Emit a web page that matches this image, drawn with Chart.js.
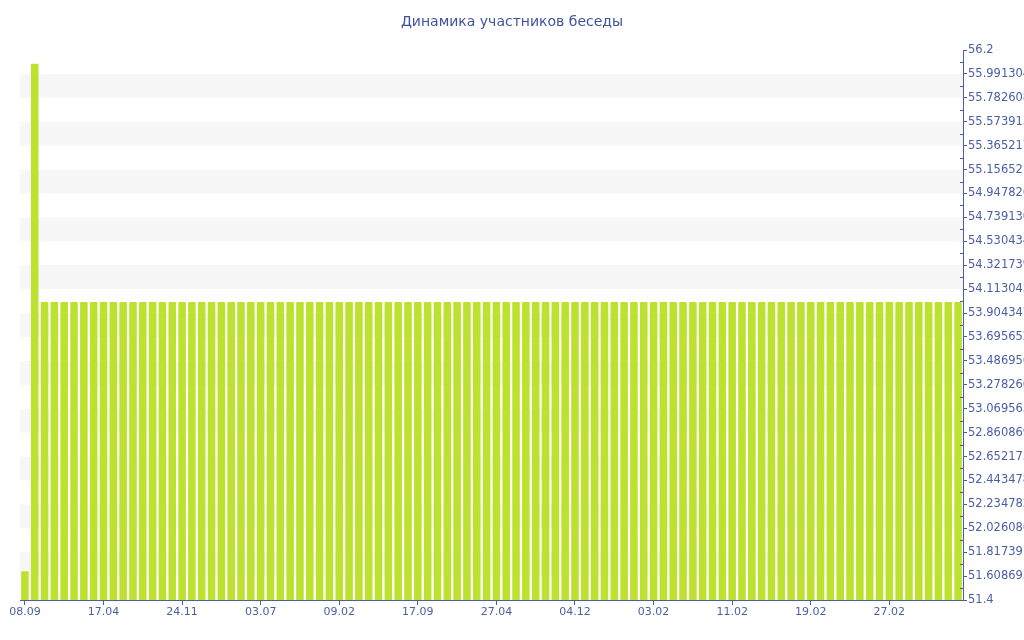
<!DOCTYPE html>
<html>
<head>
<meta charset="utf-8">
<title>Динамика участников беседы</title>
<script src="https://cdn.jsdelivr.net/npm/chart.js@4/dist/chart.umd.min.js"></script>
<style>
    html, body { margin: 0; padding: 0; background: #ffffff; }
    #wrap { width: 1024px; height: 640px; position: relative; }
</style>
</head>
<body>
<div id="wrap"><canvas id="membersChart"></canvas></div>
<script>
// Chart data
const chartTitle = 'Динамика участников беседы';

// x axis: one label every 8 bars
const tickLabels = ['08.09', '17.04', '24.11', '03.07', '09.02', '17.09',
                    '27.04', '04.12', '03.02', '11.02', '19.02', '27.02'];
const barsPerTick = 8;

// participants per bar (96 bars)
const members = [
    51.65, 56.08, 54, 54, 54, 54, 54, 54, 54, 54,
    54, 54, 54, 54, 54, 54, 54, 54, 54, 54,
    54, 54, 54, 54, 54, 54, 54, 54, 54, 54,
    54, 54, 54, 54, 54, 54, 54, 54, 54, 54,
    54, 54, 54, 54, 54, 54, 54, 54, 54, 54,
    54, 54, 54, 54, 54, 54, 54, 54, 54, 54,
    54, 54, 54, 54, 54, 54, 54, 54, 54, 54,
    54, 54, 54, 54, 54, 54, 54, 54, 54, 54,
    54, 54, 54, 54, 54, 54, 54, 54, 54, 54,
    54, 54, 54, 54, 54, 54
];

// y axis range and number of intervals
const yMin = 51.4;
const yMax = 56.2;
const ySteps = 23;

// Colours
const axisColor = '#4a5ea6';
const textColor = '#4a5ea6';
const titleColor = '#3f53a0';
const barColor = '#bde12f';
const bandColor = '#f7f7f7';

// Category labels: tick label on every 8th bar, blanks between
const categories = [];
members.forEach(function(v, i) {
    categories.push(i % barsPerTick === 0 ? tickLabels[i / barsPerTick] : '');
});

// Title centred on the whole canvas, bands and minor ticks
const decorPlugin = {
    id: 'decor',
    beforeDatasetsDraw(chart) {
        const ctx = chart.ctx;
        const area = chart.chartArea;
        const y = chart.scales.y;
        const ticks = y.ticks;
        ctx.save();
        ctx.fillStyle = bandColor;
        for (let i = ticks.length - 1; i > 0; i--) {
            // count intervals from the top, fill every second one
            const fromTop = ticks.length - 1 - i;
            if (fromTop % 2 === 1) {
                const top = y.getPixelForValue(ticks[i].value);
                const bottom = y.getPixelForValue(ticks[i - 1].value);
                ctx.fillRect(area.left, top, area.right - area.left, bottom - top);
            }
        }
        ctx.restore();
    },
    afterDraw(chart) {
        const ctx = chart.ctx;
        const y = chart.scales.y;
        const ticks = y.ticks;
        ctx.save();
        ctx.strokeStyle = axisColor;
        ctx.lineWidth = 1;
        for (let i = 1; i < ticks.length; i++) {
            const mid = (ticks[i].value + ticks[i - 1].value) / 2;
            const py = Math.round(y.getPixelForValue(mid)) + 0.5;
            ctx.beginPath();
            ctx.moveTo(y.left - 3, py);
            ctx.lineTo(y.left, py);
            ctx.stroke();
        }
        // title
        ctx.fillStyle = titleColor;
        ctx.font = '14px "DejaVu Sans"';
        ctx.textAlign = 'center';
        ctx.textBaseline = 'middle';
        ctx.fillText(chartTitle, chart.width / 2, 22);
        ctx.restore();
    }
};

// Build the chart
const membersCtx = document.getElementById('membersChart').getContext('2d');
const membersChart = new Chart(membersCtx, {
    type: 'bar',
    data: {
        labels: categories,
        datasets: [{
            label: 'Участники',
            data: members,
            backgroundColor: barColor,
            borderWidth: 0,
            borderRadius: 1,
            barPercentage: 0.77,
            categoryPercentage: 1
        }]
    },
    options: {
        responsive: true,
        maintainAspectRatio: false,
        animation: false,
        layout: {
            padding: { left: 20, top: 50, right: 0, bottom: 0 }
        },
        plugins: {
            legend: { display: false },
            tooltip: { enabled: false },
            title: { display: false }
        },
        scales: {
            x: {
                offset: true,
                grid: {
                    offset: false,
                    drawOnChartArea: false,
                    tickLength: 5,
                    color: function(c) {
                        return c.index % barsPerTick === 0 ? axisColor : 'rgba(0,0,0,0)';
                    }
                },
                border: { display: true, color: axisColor },
                ticks: {
                    autoSkip: false,
                    maxRotation: 0,
                    padding: 1,
                    color: textColor,
                    font: { family: 'DejaVu Sans', size: 11 },
                    callback: function(val) { return this.getLabelForValue(val); }
                },
                afterFit: function(scale) { scale.height = 40; }
            },
            y: {
                position: 'right',
                min: yMin,
                max: yMax,
                grid: {
                    drawOnChartArea: false,
                    tickLength: 4,
                    color: axisColor
                },
                border: { display: true, color: axisColor },
                ticks: {
                    padding: 1,
                    color: textColor,
                    font: { family: 'DejaVu Sans', size: 11.5 },
                    callback: function(v) { return String(Number(v.toFixed(10))); }
                },
                afterBuildTicks: function(scale) {
                    const list = [];
                    for (let i = 0; i <= ySteps; i++) {
                        list.push({ value: yMin + (yMax - yMin) * i / ySteps });
                    }
                    scale.ticks = list;
                },
                afterFit: function(scale) { scale.width = 61; }
            }
        }
    },
    plugins: [decorPlugin]
});
</script>
</body>
</html>
